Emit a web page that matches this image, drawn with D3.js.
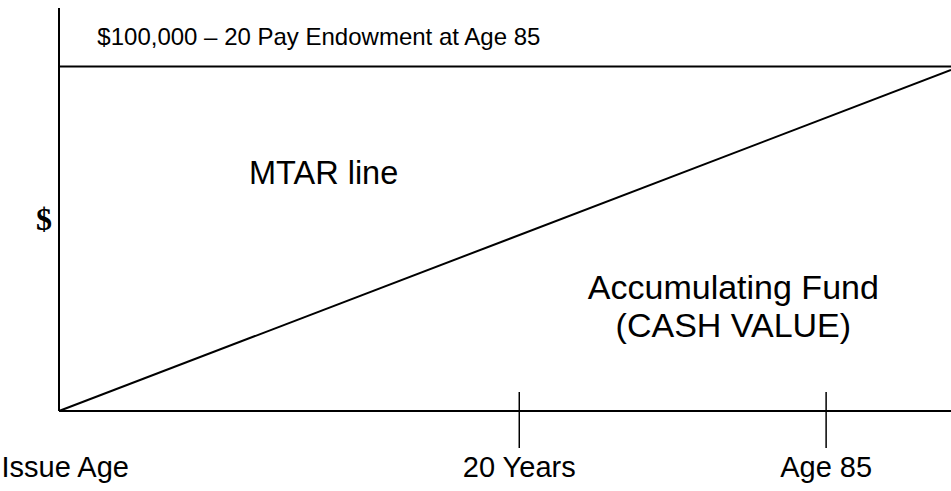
<!DOCTYPE html>
<html>
<head>
<meta charset="utf-8">
<script src="https://cdnjs.cloudflare.com/ajax/libs/d3/7.8.5/d3.min.js"></script>
<style>
  body { margin: 0; background: #fff; }
  svg { display: block; }
  text { font-family: "Liberation Sans", Arial, sans-serif; fill: #000; }
</style>
</head>
<body>
<div id="chart"></div>
<script>
// Chart values (x in % of the policy span, y in $ thousands)
const faceAmount = 100;
const faceLabel = "$100,000 \u2013 20 Pay Endowment at Age 85";
const mtarLine = [[0, 0], [100, 99]];
const tickValues = [51.6, 86];
const tickLabels = ["Issue Age", "20 Years", "Age 85"];
const tickLabelPos = [0.7, 51.6, 86];
const yAxisLabel = "$";
const annotations = [
  { text: "MTAR line", x: 21.3, y: 66, size: 32.5, anchor: "start" },
  { text: "Accumulating Fund", x: 75.6, y: 32.5, size: 34, anchor: "middle" },
  { text: "(CASH VALUE)", x: 75.6, y: 21.5, size: 34, anchor: "middle" }
];

const width = 951, height = 491;
const margin = { left: 59, right: 0, top: 8, bottom: 80 };

const svg = d3.select('#chart')
  .append('svg')
  .attr('width', width)
  .attr('height', height);

const x = d3.scaleLinear()
  .domain([0, 100])
  .range([margin.left, width - margin.right]);

const y = d3.scaleLinear()
  .domain([0, 117])
  .range([height - margin.bottom, margin.top]);

// axes
svg.append('line')
  .attr('x1', x(0)).attr('x2', x(0))
  .attr('y1', y(0)).attr('y2', y(117))
  .attr('stroke', '#000').attr('stroke-width', 2);

svg.append('line')
  .attr('x1', x(0)).attr('x2', x(100))
  .attr('y1', y(0)).attr('y2', y(0))
  .attr('stroke', '#000').attr('stroke-width', 2);

// tick marks crossing the baseline
svg.selectAll('.tick-mark')
  .data(tickValues)
  .join('line')
  .attr('class', 'tick-mark')
  .attr('x1', d => x(d)).attr('x2', d => x(d))
  .attr('y1', y(0) - 19).attr('y2', y(0) + 37)
  .attr('stroke', '#000').attr('stroke-width', 1.5);

svg.selectAll('.tick-label')
  .data(tickLabels)
  .join('text')
  .attr('class', 'tick-label')
  .attr('x', (d, i) => x(tickLabelPos[i]))
  .attr('y', y(0) + 66)
  .attr('text-anchor', 'middle')
  .style('font-size', '29px')
  .text(d => d);

// face amount line
svg.append('line')
  .attr('x1', x(0)).attr('x2', x(100))
  .attr('y1', y(faceAmount)).attr('y2', y(faceAmount))
  .attr('stroke', '#000').attr('stroke-width', 2);

svg.append('text')
  .attr('x', x(4.3))
  .attr('y', y(faceAmount) - 22)
  .style('font-size', '24px')
  .text(faceLabel);

// MTAR line
const line = d3.line().x(d => x(d[0])).y(d => y(d[1]));
svg.append('path')
  .datum(mtarLine)
  .attr('d', line)
  .attr('fill', 'none')
  .attr('stroke', '#000')
  .attr('stroke-width', 2);

// annotations
svg.selectAll('.note')
  .data(annotations)
  .join('text')
  .attr('class', 'note')
  .attr('x', d => x(d.x))
  .attr('y', d => y(d.y))
  .attr('text-anchor', d => d.anchor)
  .style('font-size', d => d.size + 'px')
  .text(d => d.text);

// y axis label
svg.append('text')
  .attr('x', 44)
  .attr('y', 230)
  .attr('text-anchor', 'middle')
  .style('font-family', '"Liberation Serif", "Times New Roman", serif')
  .style('font-weight', 'bold')
  .style('font-size', '32px')
  .text(yAxisLabel);
</script>
</body>
</html>
